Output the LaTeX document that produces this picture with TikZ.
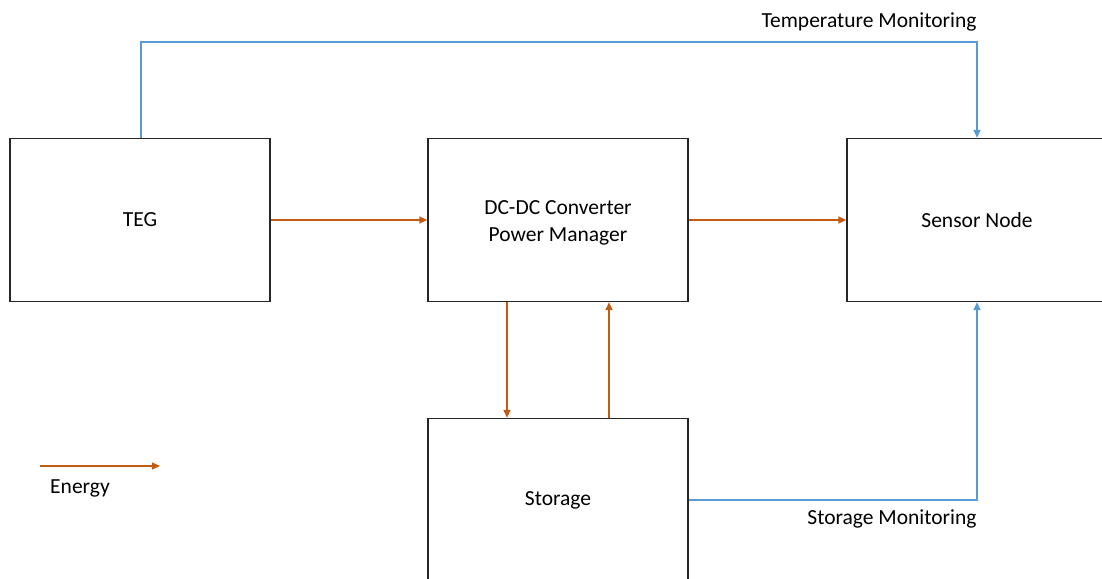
\documentclass[tikz,border=0pt]{standalone}
\usepackage{fontspec}
\setmainfont{Carlito}
\usetikzlibrary{arrows.meta}
\definecolor{energyc}{HTML}{C55A11}
\definecolor{monc}{HTML}{5B9BD5}
\definecolor{boxc}{HTML}{262626}
\tikzset{
  blockbox/.style={draw=boxc, line width=1.4pt, minimum width=260pt, minimum height=163pt, inner sep=0pt, align=center, font=\fontsize{21.5}{27}\selectfont},
  energy/.style={draw=energyc, line width=1.5pt, -{Triangle[length=8pt,width=7pt]}},
  monitor/.style={draw=monc, line width=1.5pt, -{Triangle[length=8pt,width=7pt]}},
  lbl/.style={font=\fontsize{21.5}{26}\selectfont, inner sep=0pt}
}
\begin{document}
\begin{tikzpicture}[x=1pt,y=-1pt]
\useasboundingbox (0,0) rectangle (1102,578);
\clip (0,0) rectangle (1102,578);
\fill[white] (0,0) rectangle (1102,578);
\node[blockbox] (teg) at (140,220) {TEG};
\node[blockbox] (dc) at (558,220) {};
\node[align=center, inner sep=0pt, font=\fontsize{21.5}{27}\selectfont] (dctext) at (558,222.5) {DC-DC Converter\\Power Manager};
\node[blockbox] (sensor) at (977,220) {Sensor Node};
\node[blockbox] (storage) at (558,500) {Storage};
\draw[energy] (teg.east) -- (dc.west);
\draw[energy] (dc.east) -- (sensor.west);
\draw[energy] ([xshift=-51pt]dc.south) -- ([xshift=-51pt]storage.north);
\draw[energy] ([xshift=51pt]storage.north) -- ([xshift=51pt]dc.south);
\coordinate (ttop) at (141,42);
\draw[monitor] ([xshift=1pt]teg.north) -- (ttop) -| (sensor.north);
\draw[monitor] (storage.east) -| (sensor.south);
\node[lbl] (tlabel) at (869,22) {Temperature Monitoring};
\node[lbl] (slabel) at (892,519) {Storage Monitoring};
\coordinate (e1) at (40,466);
\coordinate (e2) at (160,466);
\draw[energy] (e1) -- (e2);
\node[lbl] (elabel) at (80,488) {Energy};
\end{tikzpicture}
\end{document}
